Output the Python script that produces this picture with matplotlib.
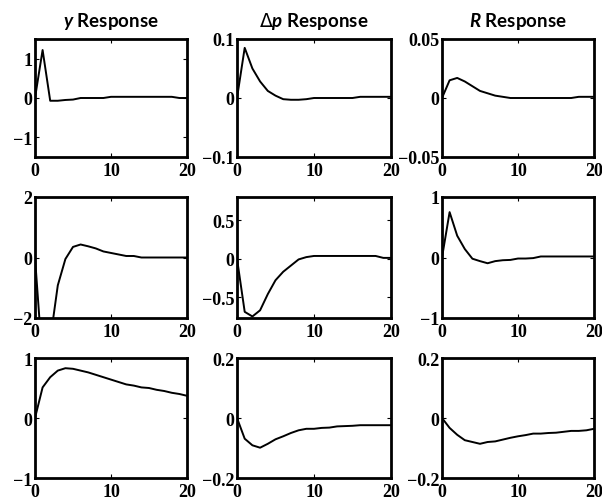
import numpy as np
import matplotlib
matplotlib.use("Agg")
import matplotlib.pyplot as plt

plt.rcParams['mathtext.fontset'] = 'custom'
plt.rcParams['mathtext.rm'] = 'DejaVu Sans'
plt.rcParams['mathtext.it'] = 'Lato:bold:italic'

horizon = np.arange(21)

# Row 1: responses to the first shock
y_resp_1 = [0, 1.22, -0.07, -0.07, -0.05, -0.04, 0, 0, 0, 0, 0.03,
            0.03, 0.03, 0.03, 0.03, 0.03, 0.03, 0.03, 0.03, 0, 0]
dp_resp_1 = [0, 0.085, 0.05, 0.028, 0.012, 0.004, -0.002, -0.003, -0.003, -0.002, 0,
             0, 0, 0, 0, 0, 0.002, 0.002, 0.002, 0.002, 0.002]
r_resp_1 = [0, 0.015, 0.017, 0.014, 0.01, 0.006, 0.004, 0.002, 0.001, 0, 0,
            0, 0, 0, 0, 0, 0, 0, 0.001, 0.001, 0.001]

# Row 2: responses to the second shock
y_resp_2 = [0, -3.5, -2.73, -0.92, -0.05, 0.35, 0.43, 0.37, 0.3, 0.2, 0.15,
            0.1, 0.05, 0.05, 0, 0, 0, 0, 0, 0, 0]
dp_resp_2 = [0, -0.69, -0.75, -0.67, -0.46, -0.28, -0.17, -0.09, -0.01, 0.02, 0.035,
             0.035, 0.035, 0.035, 0.035, 0.035, 0.035, 0.035, 0.035, 0.01, 0.01]
r_resp_2 = [0, 0.75, 0.36, 0.14, -0.02, -0.06, -0.095, -0.06, -0.045, -0.04, -0.017,
            -0.017, -0.01, 0.017, 0.017, 0.017, 0.017, 0.017, 0.017, 0.017, 0.017]

# Row 3: responses to the third shock
y_resp_3 = [0, 0.51, 0.68, 0.79, 0.83, 0.82, 0.79, 0.76, 0.72, 0.68, 0.64,
            0.6, 0.56, 0.54, 0.51, 0.5, 0.47, 0.45, 0.42, 0.4, 0.37]
dp_resp_3 = [0, -0.069, -0.091, -0.099, -0.086, -0.071, -0.061, -0.05, -0.041, -0.036, -0.036,
             -0.033, -0.032, -0.028, -0.027, -0.026, -0.024, -0.024, -0.024, -0.024, -0.024]
r_resp_3 = [0, -0.033, -0.056, -0.074, -0.08, -0.086, -0.08, -0.078, -0.072, -0.066, -0.061,
            -0.057, -0.052, -0.052, -0.05, -0.049, -0.046, -0.043, -0.043, -0.041, -0.036]

series = [[y_resp_1, dp_resp_1, r_resp_1],
          [y_resp_2, dp_resp_2, r_resp_2],
          [y_resp_3, dp_resp_3, r_resp_3]]

titles = [r'$y$ Response', r'$\Delta p$ Response', r'$R$ Response']

ylims = [[(-1.5, 1.5), (-0.1, 0.1), (-0.05, 0.05)],
         [(-2, 2), (-0.77, 0.8), (-1, 1)],
         [(-1, 1), (-0.2, 0.2), (-0.2, 0.2)]]
yticks = [[[-1, 0, 1], [-0.1, 0, 0.1], [-0.05, 0, 0.05]],
          [[-2, 0, 2], [-0.5, 0, 0.5], [-1, 0, 1]],
          [[-1, 0, 1], [-0.2, 0, 0.2], [-0.2, 0, 0.2]]]
ytick_labels = [[['−1', '0', '1'], ['−0.1', '0', '0.1'], ['−0.05', '0', '0.05']],
                [['−2', '0', '2'], ['−0.5', '0', '0.5'], ['−1', '0', '1']],
                [['−1', '0', '1'], ['−0.2', '0', '0.2'], ['−0.2', '0', '0.2']]]
xticks = [0, 10, 20]

W, H = 602, 502
fig = plt.figure(figsize=(W / 100, H / 100), dpi=100)

col_px = [(35, 187), (237, 391), (442, 594)]
row_px = [(40, 158), (198, 319), (359, 479)]

tick_font = dict(family='Liberation Serif', weight='bold', size=13)

for i in range(3):
    for j in range(3):
        x0, x1 = col_px[j]
        t0, t1 = row_px[i]
        ax = fig.add_axes([x0 / W, 1 - t1 / H, (x1 - x0) / W, (t1 - t0) / H])
        ax.plot(horizon, series[i][j], color='black', lw=1.4)
        ax.set_xlim(0, 20)
        ax.set_ylim(*ylims[i][j])
        ax.set_xticks(xticks)
        ax.set_xticklabels([str(v) for v in xticks], fontdict=tick_font)
        ax.set_yticks(yticks[i][j])
        ax.set_yticklabels(ytick_labels[i][j], fontdict=tick_font)
        ax.tick_params(direction='in', length=3, width=0.8, top=True, right=True)
        ax.tick_params(axis='x', pad=3.5)
        ax.tick_params(axis='y', pad=2)
        for s in ax.spines.values():
            s.set_linewidth(2.0)
        if i == 0:
            ax.set_title(titles[j], family='Lato', weight='bold', size=13.5, pad=9)

fig.savefig('out.png', dpi=100)
